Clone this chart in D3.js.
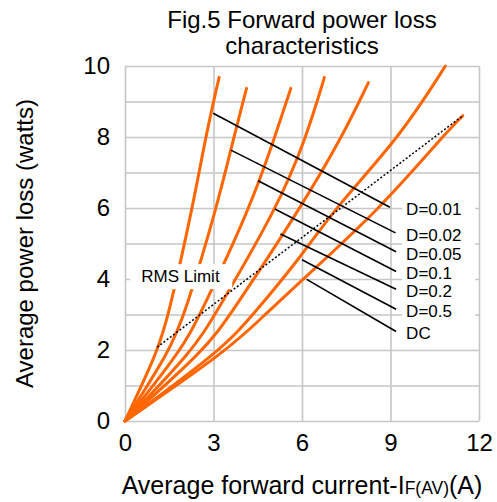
<!DOCTYPE html>
<html>
<head>
<meta charset="utf-8">
<script src="https://cdn.jsdelivr.net/npm/d3@7"></script>
<style>
  html, body { margin: 0; padding: 0; background: #ffffff; }
  svg { display: block; font-family: "Liberation Sans", Arial, sans-serif; }
</style>
</head>
<body>
<svg id="chart" width="497" height="502"></svg>
<script>
// ---- data ----
const titleLines = ["Fig.5 Forward power loss", "characteristics"];
const xTicks = [0, 3, 6, 9, 12];
const yTicks = [0, 2, 4, 6, 8, 10];
const xGrid = [0, 3, 6, 9, 12];
const yGrid = [0, 1, 2, 3, 4, 5, 6, 7, 8, 9, 10];
const seriesNames = ["D=0.01", "D=0.02", "D=0.05", "D=0.1", "D=0.2", "D=0.5", "DC"];

// [current A, power W]
const curveD001 = [[0, 0], [1.13, 2], [1.48, 3], [2.29, 6], [2.73, 8], [3.19, 9.68]];
const curveD002 = [[0, 0], [1.53, 2], [2.02, 3], [3.11, 6], [3.69, 8], [4.12, 9.37]];
const curveD005 = [[0, 0], [1.92, 2], [2.55, 3], [4.24, 6], [5.08, 8], [5.62, 9.37]];
const curveD01  = [[0, 0], [2.32, 2], [3.05, 3], [5.16, 6], [6.15, 8], [6.76, 9.68]];
const curveD02  = [[0, 0], [2.71, 2], [3.58, 3], [5.95, 6], [7.36, 8], [8.25, 9.53]];
const curveD05  = [[0, 0], [3.28, 2], [4.35, 3], [6.00, 4.66], [7.12, 6], [9.32, 8], [10.86, 10]];
const curveDC   = [[0, 0], [3.50, 2], [4.75, 3], [6.00, 3.97], [8.67, 6], [10.75, 8], [11.45, 8.6]];
const curves = [curveD001, curveD002, curveD005, curveD01, curveD02, curveD05, curveDC];

// RMS limit (dotted)
const rmsLimit = [[1.09, 2.08], [11.45, 8.6]];
const rmsLabel = "RMS Limit";

// leader lines: start on curve -> end near label
const leaderStart = [[2.99, 8.67], [3.59, 7.63], [4.51, 6.77], [5.08, 5.97], [5.27, 5.27], [6.00, 4.54], [6.16, 3.99]];
const leaderEnd   = [[8.98, 6.02], [9.17, 5.30], [9.19, 4.77], [9.19, 4.21], [9.19, 3.71], [9.19, 3.15], [9.19, 2.52]];

// ---- layout ----
const svg = d3.select("#chart");
const x = d3.scaleLinear().domain([0, 12]).range([125, 479]);
const y = d3.scaleLinear().domain([0, 10]).range([421, 66]);
const FONT = "'Liberation Sans', Arial, sans-serif";
const ORANGE = "#ff6600";
const GRID = "#c6c6c6";

// gridlines
const gx = svg.append("g").attr("transform", `translate(0,${y(0)})`)
  .call(d3.axisBottom(x).tickValues(xGrid).tickSize(-(y(0) - y(10))).tickFormat(""));
gx.select(".domain").remove();
gx.selectAll("line").attr("stroke", GRID).attr("stroke-width", 1.6);

const gy = svg.append("g").attr("transform", `translate(${x(0)},0)`)
  .call(d3.axisLeft(y).tickValues(yGrid).tickSize(-(x(12) - x(0))).tickFormat(""));
gy.select(".domain").remove();
gy.selectAll("line").attr("stroke", GRID).attr("stroke-width", 1.6);

// tick labels
const ax = svg.append("g").attr("transform", `translate(0,${y(0)})`)
  .call(d3.axisBottom(x).tickValues(xTicks).tickSize(0).tickPadding(13).tickFormat(d3.format("d")));
ax.select(".domain").remove();
ax.selectAll("text").attr("font-family", FONT).attr("font-size", 24).attr("fill", "#000");

const ay = svg.append("g").attr("transform", `translate(${x(0)},0)`)
  .call(d3.axisLeft(y).tickValues(yTicks).tickSize(0).tickPadding(15).tickFormat(d3.format("d")));
ay.select(".domain").remove();
ay.selectAll("text").attr("font-family", FONT).attr("font-size", 24).attr("fill", "#000");

// curves
const line = d3.line().x(d => x(d[0])).y(d => y(d[1])).curve(d3.curveBasis);
svg.append("g").selectAll("path").data(curves).join("path")
  .attr("d", line)
  .attr("fill", "none")
  .attr("stroke", ORANGE)
  .attr("stroke-width", 3)
  .attr("stroke-linecap", "round");

// RMS limit dotted line
svg.append("path")
  .attr("d", d3.line().x(d => x(d[0])).y(d => y(d[1]))(rmsLimit))
  .attr("fill", "none")
  .attr("stroke", "#000")
  .attr("stroke-width", 1.5)
  .attr("stroke-dasharray", "2,2");

// leader lines
svg.append("g").selectAll("line").data(seriesNames).join("line")
  .attr("x1", (d, i) => x(leaderStart[i][0]))
  .attr("y1", (d, i) => y(leaderStart[i][1]))
  .attr("x2", (d, i) => x(leaderEnd[i][0]))
  .attr("y2", (d, i) => y(leaderEnd[i][1]))
  .attr("stroke", "#000")
  .attr("stroke-width", 1.6);

// series labels with white boxes
const lab = svg.append("g").selectAll("g").data(seriesNames).join("g")
  .attr("transform", (d, i) => `translate(${x(9.19) + 10},${y(leaderEnd[i][1]) + 2})`);
lab.append("rect")
  .attr("x", -4).attr("y", -10).attr("width", 73).attr("height", 20)
  .attr("fill", "#fff");
lab.append("text")
  .attr("x", 0).attr("y", 0).attr("dy", "0.35em")
  .attr("font-family", FONT).attr("font-size", 17).attr("fill", "#000")
  .text(d => d);

// RMS Limit label
const rg = svg.append("g").attr("transform", `translate(${x(0.55)},${y(4.08)})`);
rg.append("rect").attr("x", -11).attr("y", -12).attr("width", 102).attr("height", 25).attr("fill", "#fff");
rg.append("text").attr("dy", "0.35em")
  .attr("font-family", FONT).attr("font-size", 17).attr("fill", "#000")
  .text(rmsLabel);

// title
const cx = (x(0) + x(12)) / 2;
svg.append("g").selectAll("text").data(titleLines).join("text")
  .attr("x", cx)
  .attr("y", (d, i) => 28 + i * 26)
  .attr("text-anchor", "middle")
  .attr("font-family", FONT).attr("font-size", 24).attr("fill", "#000")
  .text(d => d);

// x axis title
const xt = svg.append("text")
  .attr("x", cx).attr("y", 494)
  .attr("text-anchor", "middle")
  .attr("font-family", FONT).attr("font-size", 25).attr("fill", "#000");
xt.append("tspan").text("Average forward current-I");
xt.append("tspan").attr("font-size", 17.5).text("F(AV)");
xt.append("tspan").text("(A)");

// y axis title
svg.append("text")
  .attr("transform", `translate(33,${(y(0) + y(10)) / 2}) rotate(-90)`)
  .attr("text-anchor", "middle")
  .attr("font-family", FONT).attr("font-size", 24).attr("fill", "#000")
  .text("Average power loss (watts)");
</script>
</body>
</html>
